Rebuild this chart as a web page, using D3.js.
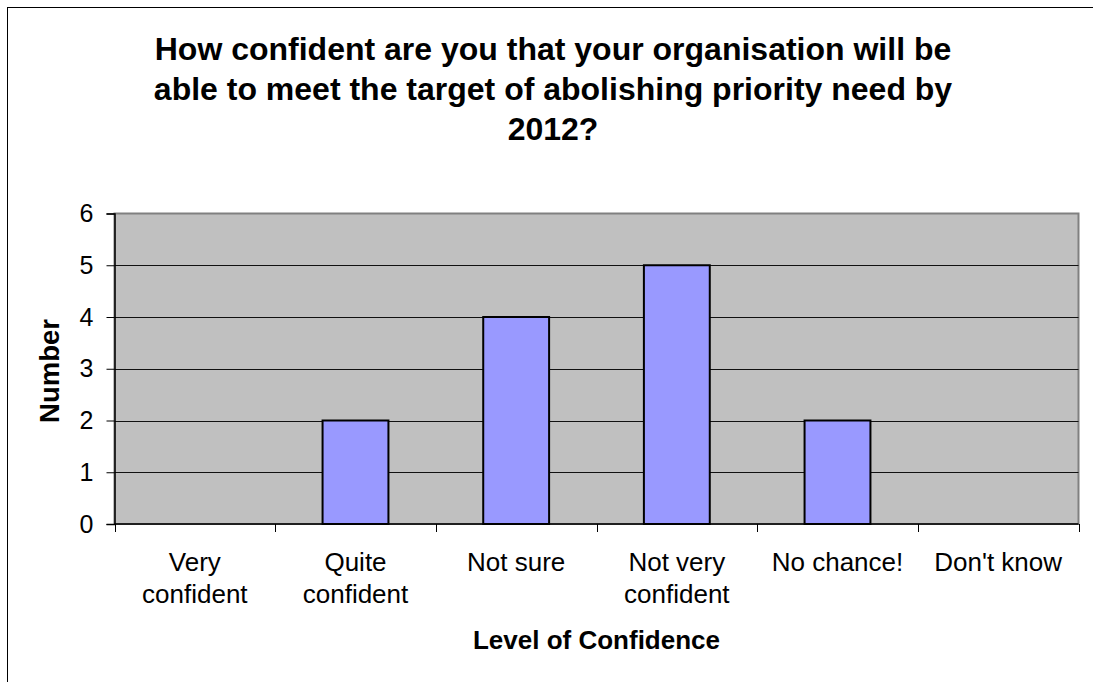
<!DOCTYPE html>
<html>
<head>
<meta charset="utf-8">
<script src="https://cdn.jsdelivr.net/npm/d3@7"></script>
<style>
  html, body { margin: 0; padding: 0; background: #fff; overflow: hidden; }
  svg { display: block; font-family: Arial, "Liberation Sans", sans-serif; }
</style>
</head>
<body>
<svg id="chart" width="1093" height="682"></svg>
<script>
// Survey responses: confidence in meeting the 2012 priority-need target
const categories = [
  ["Very", "confident"],
  ["Quite", "confident"],
  ["Not sure"],
  ["Not very", "confident"],
  ["No chance!"],
  ["Don't know"]
];
const counts = [0, 2, 4, 5, 2, 0];
const yTicks = [0, 1, 2, 3, 4, 5, 6];
const titleLines = [
  "How confident are you that your organisation will be",
  "able to meet the target of abolishing priority need by",
  "2012?"
];
const xTitle = "Level of Confidence";
const yTitle = "Number";

const W = 1093, H = 682;
const plot = { left: 114.5, right: 1078.5, top: 213.5, bottom: 524 };
const labelSize = 26;

const svg = d3.select("#chart");

// Chart frame (runs off the right and bottom edges)
svg.append("rect")
  .attr("x", 7.5).attr("y", 7.5)
  .attr("width", W + 20).attr("height", H + 20)
  .attr("fill", "#fff").attr("stroke", "#000").attr("stroke-width", 1);

const keys = categories.map((c, i) => i);
const x = d3.scaleBand().domain(keys).range([plot.left, plot.right]).paddingInner(0).paddingOuter(0);
const y = d3.scaleLinear().domain([0, 6]).range([plot.bottom, plot.top]);

// Plot background
svg.append("rect")
  .attr("x", plot.left).attr("y", plot.top)
  .attr("width", plot.right - plot.left).attr("height", plot.bottom - plot.top)
  .attr("fill", "#c0c0c0")
  .attr("stroke", "#808080").attr("stroke-width", 2);

// Horizontal gridlines
svg.append("g").selectAll("line")
  .data(yTicks.filter(t => t > 0 && t < 6))
  .join("line")
  .attr("x1", plot.left).attr("x2", plot.right)
  .attr("y1", d => Math.round(y(d)) + 0.5).attr("y2", d => Math.round(y(d)) + 0.5)
  .attr("stroke", "#111").attr("stroke-width", 1);

// Bars
const barW = x.bandwidth() * 0.41;
svg.append("g").selectAll("rect")
  .data(counts.map((v, i) => ({ v, i })).filter(d => d.v > 0))
  .join("rect")
  .attr("x", d => x(d.i) + (x.bandwidth() - barW) / 2)
  .attr("width", barW)
  .attr("y", d => y(d.v))
  .attr("height", d => y(0) - y(d.v))
  .attr("fill", "#9999ff")
  .attr("stroke", "#000").attr("stroke-width", 2);

// Y axis
const yAxis = d3.axisLeft(y).tickValues(yTicks).tickSize(8).tickPadding(13).tickFormat(d3.format("d"));
const gy = svg.append("g").attr("transform", `translate(${plot.left},0)`).call(yAxis);
gy.select(".domain").attr("stroke", "#000").attr("stroke-width", 1.5);
gy.selectAll(".tick line").attr("stroke", "#000");
gy.selectAll(".tick text").attr("font-size", 25).attr("fill", "#000")
  .attr("font-family", "Arial, 'Liberation Sans', sans-serif");

// X axis: ticks on band boundaries
const xBoundaries = d3.range(categories.length + 1).map(i => plot.left + i * x.step());
const gx = svg.append("g");
gx.append("line")
  .attr("x1", plot.left).attr("x2", plot.right)
  .attr("y1", plot.bottom).attr("y2", plot.bottom)
  .attr("stroke", "#000").attr("stroke-width", 1.5);
gx.selectAll("line.tk").data(xBoundaries).join("line")
  .attr("class", "tk")
  .attr("x1", d => Math.round(d) + 0.5).attr("x2", d => Math.round(d) + 0.5)
  .attr("y1", plot.bottom).attr("y2", plot.bottom + 8)
  .attr("stroke", "#000");

// Category labels
const lab = svg.append("g").selectAll("text")
  .data(categories.map((c, i) => ({ c, i })))
  .join("text")
  .attr("x", d => x(d.i) + x.bandwidth() / 2)
  .attr("y", 571)
  .attr("text-anchor", "middle")
  .attr("font-size", labelSize)
  .attr("fill", "#000");
lab.selectAll("tspan").data(d => d.c.map(t => ({ t, x: x(d.i) + x.bandwidth() / 2 })))
  .join("tspan")
  .attr("x", d => d.x)
  .attr("dy", (d, j) => j === 0 ? 0 : 32)
  .text(d => d.t);

// Title
svg.append("text")
  .attr("text-anchor", "middle")
  .attr("font-size", 32).attr("font-weight", "bold").attr("fill", "#000")
  .selectAll("tspan").data(titleLines).join("tspan")
  .attr("x", 553).attr("y", (d, i) => 59.5 + i * 40)
  .text(d => d);

// Axis titles
svg.append("text")
  .attr("x", (plot.left + plot.right) / 2).attr("y", 649)
  .attr("text-anchor", "middle")
  .attr("font-size", labelSize).attr("font-weight", "bold")
  .text(xTitle);

svg.append("text")
  .attr("transform", `translate(59,371) rotate(-90)`)
  .attr("text-anchor", "middle")
  .attr("font-size", 27.5).attr("font-weight", "bold")
  .text(yTitle);
</script>
</body>
</html>
